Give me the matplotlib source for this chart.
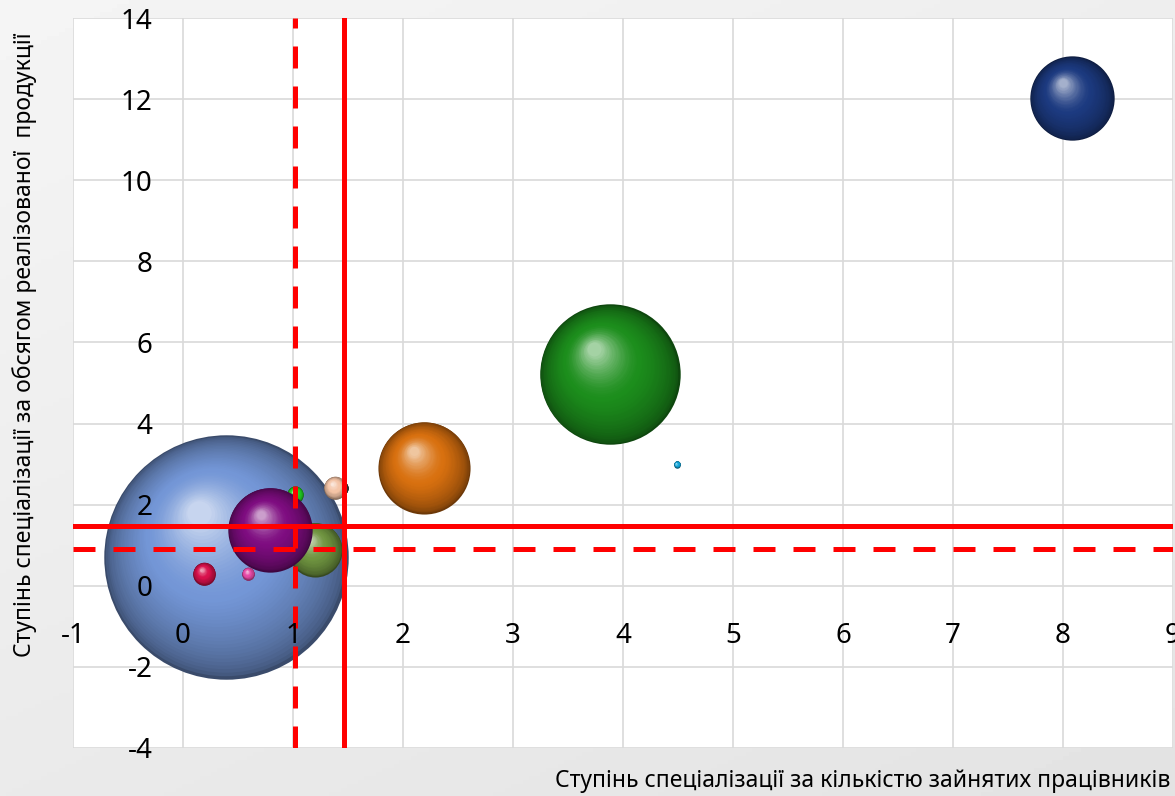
import numpy as np
import matplotlib.pyplot as plt
import matplotlib.transforms as mtransforms
from matplotlib.colors import to_rgb

plt.rcParams['font.family'] = ['Noto Sans', 'DejaVu Sans']
plt.rcParams['axes.unicode_minus'] = False

# bubble data (x = specialisation by workers, y = by sales, size = bubble size)
x = [0.39, 1.02, 1.20, 0.79, 1.44, 1.38, 0.19, 0.59, 2.19, 3.88, 4.49, 8.08]
y = [0.72, 2.25, 0.89, 1.38, 2.40, 2.42, 0.30, 0.30, 2.91, 5.21, 2.99, 12.02]
sizes = [100, 0.45, 4.9, 11.9, 0.35, 0.85, 0.85, 0.26, 14.2, 33.0, 0.07, 11.9]
colors = ['#7396d6', '#22d022', '#6f9440', '#7e0c80', '#404040', '#f4c4a6',
          '#d8104c', '#e84aa8', '#d8700f', '#1c8e1c', '#14a6da', '#1c3a80']

# threshold lines
x_solid = 1.46
x_dash = 1.02
y_solid = 1.48
y_dash = 0.91

x_ticks = list(range(-1, 10))
y_ticks = list(range(-4, 15, 2))

fig = plt.figure(figsize=(11.75, 7.96), dpi=100)

# grey gradient background
bg = fig.add_axes([0, 0, 1, 1], zorder=-10)
gx, gy = np.meshgrid(np.linspace(0, 1, 200), np.linspace(0, 1, 200))
grad = 0.96 - 0.07 * (0.6 * gy + 0.4 * gx)
bg.imshow(grad, cmap='gray', vmin=0, vmax=1, aspect='auto', extent=[0, 1, 0, 1])
bg.axis('off')

ax = fig.add_axes([73 / 1175, 48 / 796, 1100 / 1175, 730 / 796])
ax.set_facecolor('white')
ax.set_xlim(-1, 9)
ax.set_ylim(-4, 14)
ax.set_xticks(x_ticks)
ax.set_yticks(y_ticks)
for s in ax.spines.values():
    s.set_visible(False)
ax.spines['bottom'].set_position(('data', 0))
ax.spines['left'].set_position(('data', 0))
ax.tick_params(axis='x', length=0, pad=26, labelsize=20)
ax.tick_params(axis='y', length=0, pad=22, labelsize=20)
ax.xaxis.set_zorder(50)
ax.yaxis.set_zorder(50)

# gridlines
for v in x_ticks:
    ax.axvline(v, color='#d9d9d9', linewidth=1.2, zorder=0)
for v in y_ticks:
    ax.axhline(v, color='#d9d9d9', linewidth=1.2, zorder=0)


def sphere(xc, yc, size, color, z, n=45):
    r_pt = np.sqrt(size / 100.0) * 88.0
    base = np.array(to_rgb(color))
    dark = base * 0.5
    light = base + (1 - base) * 0.6
    for i in range(n):
        t = i / (n - 1)
        rad = r_pt * (1 - 0.9 * t)
        dx = -0.22 * r_pt * t
        dy = 0.36 * r_pt * t
        if t < 0.5:
            c = dark + (base - dark) * (t / 0.5) ** 0.55
        else:
            c = base + (light - base) * ((t - 0.5) / 0.5) ** 1.6
        off = mtransforms.ScaledTranslation(dx / 72, dy / 72, fig.dpi_scale_trans)
        ax.scatter([xc], [yc], s=(2 * rad) ** 2, color=np.clip(c, 0, 1),
                   linewidths=0, transform=ax.transData + off, zorder=z)


for i in range(len(x)):
    sphere(x[i], y[i], sizes[i], colors[i], 2 + i)

ax.set_xlim(-1, 9)
ax.set_ylim(-4, 14)

ax.axvline(x_solid, color='red', linewidth=3.6, zorder=30)
ax.axvline(x_dash, color='red', linewidth=3.6, dashes=(4.4, 3.6), zorder=30)
ax.axhline(y_solid, color='red', linewidth=3.6, zorder=30)
ax.axhline(y_dash, color='red', linewidth=3.6, dashes=(4.4, 3.6), zorder=30)

fig.text(25 / 1175, 1 - 345 / 796,
         'Ступінь спеціалізації за обсягом реалізованої  продукції',
         rotation=90, ha='center', va='center', fontsize=16.5)
fig.text(1170 / 1175, 1 - 781 / 796,
         'Ступінь спеціалізації за кількістю зайнятих працівників',
         ha='right', va='center', fontsize=16.5)

fig.savefig('out.png', dpi=100)
